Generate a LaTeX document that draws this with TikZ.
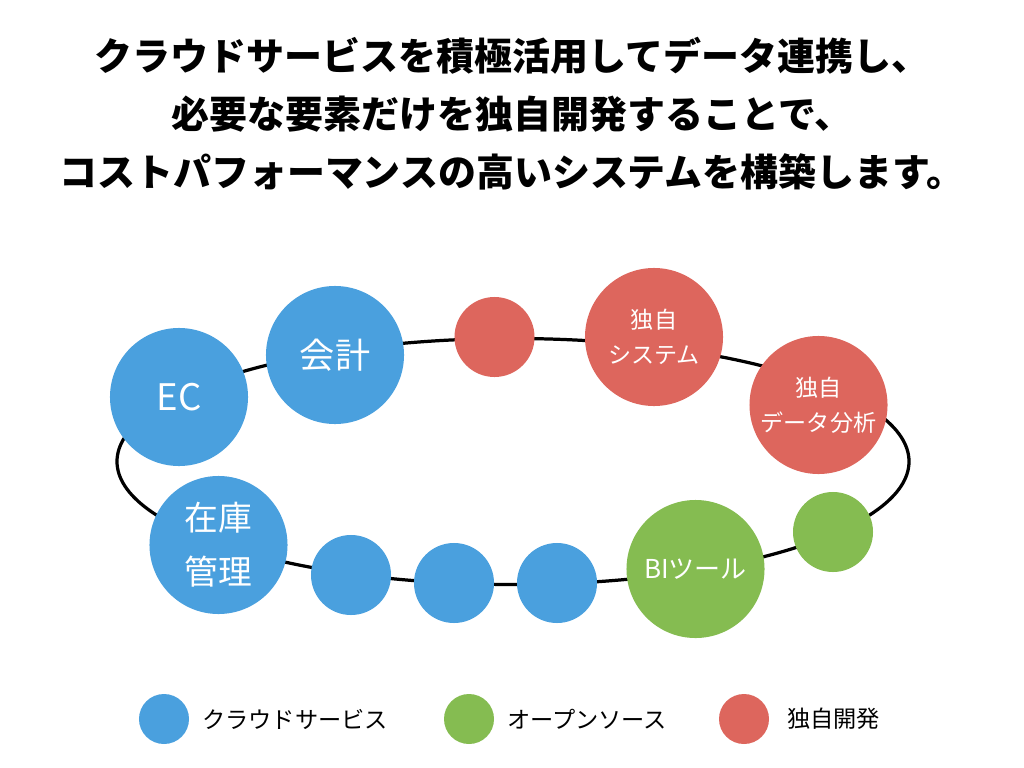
\documentclass[tikz,border=0pt]{standalone}
\usepackage{fontspec}
\usepackage{tikz}
\newfontfamily\jp{Noto Sans CJK JP}
\definecolor{cloudblue}{HTML}{4AA0DE}
\definecolor{ossgreen}{HTML}{85BC51}
\definecolor{ownred}{HTML}{DD665D}

\begin{document}
\begin{tikzpicture}[x=0.025cm, y=-0.025cm]
  \tikzstyle{bigdot} = [circle, inner sep=0pt, minimum size=3.45cm, text=white, align=center]
  \tikzstyle{smalldot} = [circle, inner sep=0pt, minimum size=2cm]
  \tikzstyle{keydot} = [circle, inner sep=0pt, minimum size=1.25cm]
  \tikzstyle{keytext} = [anchor=west, inner sep=0pt, font=\jp\fontsize{16.5}{20}\selectfont]

  \useasboundingbox (0,0) rectangle (1024,768);

  \node[align=center, font=\jp\bfseries\fontsize{27}{41.3}\selectfont] (title) at (512,114)
    {クラウドサービスを積極活用してデータ連携し、\\必要な要素だけを独自開発することで、\\コストパフォーマンスの高いシステムを構築します。};

  \draw[line width=2.3pt] (513,461.5) ellipse (396 and 123);

  \node[bigdot, fill=cloudblue, font=\jp\fontsize{26}{38}\selectfont] (ec) at (179,397) {EC};
  \node[bigdot, fill=cloudblue, font=\jp\fontsize{25}{38}\selectfont] (kaikei) at (335,355) {会計};
  \node[bigdot, fill=cloudblue, font=\jp\fontsize{24}{38.4}\selectfont] (zaiko) at (218.5,545) {在庫\\管理};
  \node[bigdot, fill=ownred, font=\jp\fontsize{16.4}{25}\selectfont] (system) at (654,337) {独自\\システム};
  \node[bigdot, fill=ownred, font=\jp\fontsize{16.4}{25}\selectfont] (analysis) at (818.5,405) {独自\\データ分析};
  \node[bigdot, fill=ossgreen, font=\jp\fontsize{18.5}{25}\selectfont] (bi) at (695.5,569) {BIツール};

  \node[smalldot, fill=ownred] (red1) at (494.5,337) {};
  \node[smalldot, fill=ossgreen] (green1) at (833,532) {};
  \foreach \i / \x / \y in {1/351/575, 2/454/583, 3/557/583} {%
    \node[smalldot, fill=cloudblue] (blue\i) at (\x,\y) {};
  }

  \foreach \name / \col / \x / \tx / \txt in {cloud/cloudblue/164/202/クラウドサービス, oss/ossgreen/469/507/オープンソース, own/ownred/744/787/独自開発} {%
    \node[keydot, fill=\col] (\name dot) at (\x,719) {};
    \node[keytext] (\name text) at (\tx,719) {\txt};
  }

\end{tikzpicture}
\end{document}
